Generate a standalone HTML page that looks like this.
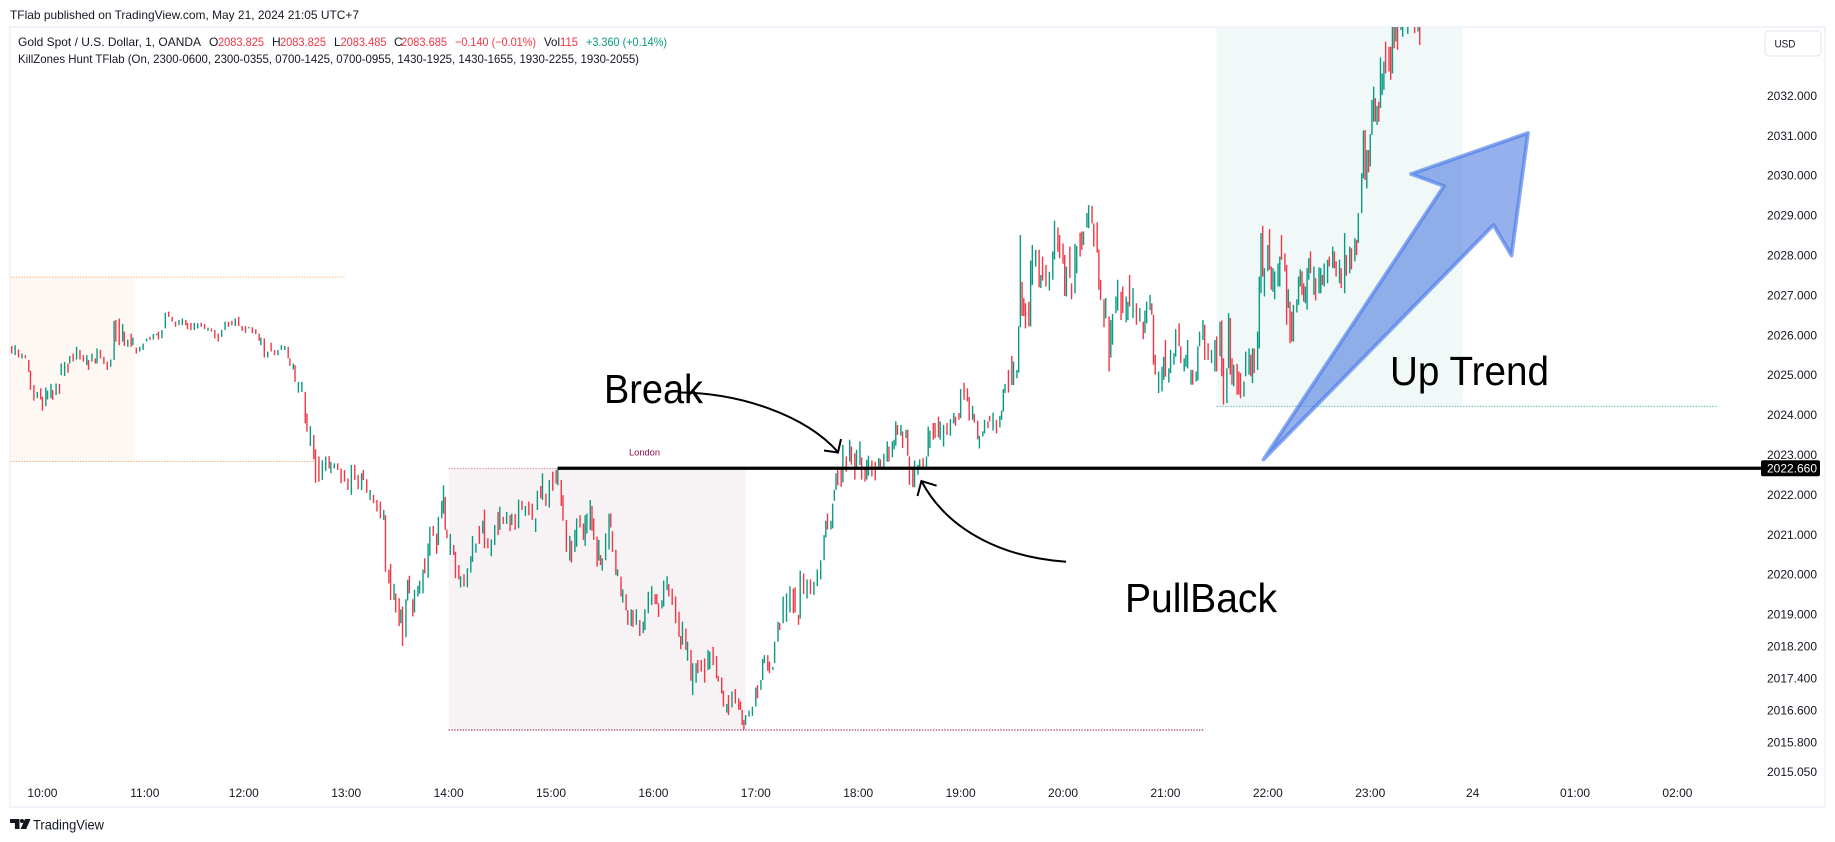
<!DOCTYPE html>
<html lang="en">
<head>
<meta charset="utf-8">
<title>Gold Spot KillZones chart</title>
<style>
html,body{margin:0;padding:0;background:#fff;width:1835px;height:842px;overflow:hidden}
svg{display:block;font-family:"Liberation Sans",sans-serif}
</style>
</head>
<body>
<svg id="chart" xmlns="http://www.w3.org/2000/svg" width="1835" height="842" viewBox="0 0 1835 842">
  <defs>
    <clipPath id="pane"><rect x="10" y="27" width="1751" height="779"/></clipPath>
  </defs>
  <rect x="0" y="0" width="1835" height="842" fill="#ffffff"/>
  <text x="10" y="19" font-size="12" fill="#131722" textLength="349" lengthAdjust="spacingAndGlyphs">TFlab published on TradingView.com, May 21, 2024 21:05 UTC+7</text>
  <rect x="10" y="27" width="1815" height="780" fill="none" stroke="#f0f3fa" stroke-width="2"/>

  <g id="sessions" clip-path="url(#pane)"></g>
  <g id="candles" clip-path="url(#pane)"></g>
  <line id="levelLine" stroke="#000000" stroke-width="3.2"/>

  <text x="644.5" y="455.5" font-size="9.5" fill="#880e4f" text-anchor="middle" textLength="31" lengthAdjust="spacingAndGlyphs">London</text>

  <polygon points="1263.5,459.5 1444,186 1411,174 1528,133 1511.5,255.5 1493.5,225" fill="#4f7ce0" fill-opacity="0.6" stroke="#4a7bea" stroke-opacity="0.65" stroke-width="3.8" stroke-linejoin="round"/>

  <g fill="none" stroke="#000000" stroke-width="2">
    <path d="M680 392.5 C740 393,805 415,838 452"/>
    <path d="M824 450.5 L838 452.5 L841 439"/>
  </g>
  <g fill="none" stroke="#000000" stroke-width="2">
    <path d="M1066 561.7 C1010 558,950 535,921.4 481"/>
    <path d="M917.5 496 L921.4 481 L936.6 485.7"/>
  </g>
  <text x="604" y="403" font-size="41" fill="#000000" textLength="99" lengthAdjust="spacingAndGlyphs">Break</text>
  <text x="1125" y="612" font-size="41" fill="#000000" textLength="152" lengthAdjust="spacingAndGlyphs">PullBack</text>
  <text x="1390" y="385" font-size="41" fill="#000000" textLength="159" lengthAdjust="spacingAndGlyphs">Up Trend</text>

  <g font-size="12">
    <text x="18" y="46" fill="#131722" textLength="183" lengthAdjust="spacingAndGlyphs">Gold Spot / U.S. Dollar, 1, OANDA</text>
    <text x="209" y="46" fill="#131722">O</text>
    <text x="218" y="46" fill="#f23645" textLength="46" lengthAdjust="spacingAndGlyphs">2083.825</text>
    <text x="272" y="46" fill="#131722">H</text>
    <text x="280" y="46" fill="#f23645" textLength="46" lengthAdjust="spacingAndGlyphs">2083.825</text>
    <text x="334" y="46" fill="#131722">L</text>
    <text x="340.5" y="46" fill="#f23645" textLength="46" lengthAdjust="spacingAndGlyphs">2083.485</text>
    <text x="394" y="46" fill="#131722">C</text>
    <text x="401" y="46" fill="#f23645" textLength="46" lengthAdjust="spacingAndGlyphs">2083.685</text>
    <text x="455" y="46" fill="#f23645" textLength="81" lengthAdjust="spacingAndGlyphs">−0.140 (−0.01%)</text>
    <text x="544" y="46" fill="#131722" textLength="16" lengthAdjust="spacingAndGlyphs">Vol</text>
    <text x="560" y="46" fill="#f23645" textLength="18" lengthAdjust="spacingAndGlyphs">115</text>
    <text x="586" y="46" fill="#089981" textLength="81" lengthAdjust="spacingAndGlyphs">+3.360 (+0.14%)</text>
    <text x="18" y="63" fill="#131722" textLength="621" lengthAdjust="spacingAndGlyphs">KillZones Hunt TFlab (On, 2300-0600, 2300-0355, 0700-1425, 0700-0955, 1430-1925, 1430-1655, 1930-2255, 1930-2055)</text>
  </g>

  <g id="yAxis" font-size="12" fill="#131722" text-anchor="middle"></g>
  <g id="xAxis" font-size="12" fill="#131722" text-anchor="middle"></g>

  <rect id="levelTag" x="1761" width="59" height="16" rx="2" fill="#000000"/>
  <text id="levelText" x="1792" font-size="12" fill="#ffffff" text-anchor="middle"></text>

  <rect x="1765" y="31" width="56" height="25" rx="4" fill="#ffffff" stroke="#e0e3eb"/>
  <text x="1785" y="47.5" font-size="11" fill="#131722" text-anchor="middle" textLength="21" lengthAdjust="spacingAndGlyphs">USD</text>

  <g fill="#131722">
    <path d="M10 819h9.5v10h-4.6v-6H10z"/>
    <circle cx="22" cy="821" r="2"/>
    <path d="M25 819h5.6l-4.4 10h-5.6z"/>
  </g>
  <text x="33" y="829.5" font-size="14" fill="#131722" textLength="71" lengthAdjust="spacingAndGlyphs">TradingView</text>
</svg>

<script>
// Values in hundredths of a dollar above 2000 (2571 = 2025.71). Minutes count from the left edge of the chart.
const priceBase = 2000;
const minutes = [
1,3,5,7,9,11,12,14,16,18,
19,21,22,24,25,27,29,30,32,34,
35,37,39,41,43,45,46,48,50,51,
53,55,57,59,61,62,64,66,67,69,
71,72,74,76,78,80,82,84,86,87,
89,91,93,95,97,99,101,103,104,106,
108,110,112,114,116,118,120,122,124,126,
128,130,132,134,136,138,140,142,144,146,
147,149,151,153,155,157,159,161,163,164,
166,167,169,171,173,174,176,178,179,181,
183,185,187,188,190,192,194,196,198,200,
202,204,206,207,209,211,213,215,217,219,
220,222,223,225,226,228,229,230,232,233,
234,236,237,239,240,242,243,245,246,248,250,251,
253,254,255,256,258,260,261,263,264,266,
268,270,271,273,275,277,278,280,282,284,
286,287,289,291,293,294,296,298,300,302,
304,306,308,309,311,312,314,316,318,320,
321,323,324,326,328,329,331,332,334,336,
337,338,340,341,342,344,345,346,347,349,
351,352,353,355,356,358,359,361,362,364,
365,367,369,371,372,374,376,378,379,380,
382,383,385,386,388,390,392,393,394,396,
397,399,400,402,403,405,407,409,410,412,
414,415,417,418,420,421,423,425,427,428,
429,430,431,433,435,437,438,440,441,442,
444,445,447,448,450,451,453,455,457,459,
460,462,463,465,467,469,471,473,475,477,
478,479,481,482,483,484,485,487,
488,490,492,493,495,496,498,499,501,502,
503,505,507,509,510,512,514,515,517,518,
519,520,522,523,525,526,527,529,530,532,
533,535,537,538,539,541,542,544,545,547,
549,551,553,554,556,557,559,561,562,564,
565,567,568,570,571,573,574,576,578,580,
581,582,583,585,587,588,590,591,592,593,
594,595,597,598,599,601,603,604,605,607,
609,611,612,614,615,617,618,619,621,622,
624,625,627,628,629,631,632,634,635,637,
638,639,641,642,644,645,646,648,649,651,
652,654,655,656,658,660,662,664,665,666,
668,669,670,671,673,675,676,677,679,680,
682,683,685,686,688,689,690,692,693,695,
696,697,699,700,702,704,706,707,709,710,
711,713,714,715,716,717,719,720,721,723,
724,726,727,728,729,731,732,733,734,735,
737,738,739,740,741,743,744,745,747,748,
749,750,751,752,754,755,756,757,758,759,
760,761,762,764,765,767,768,769,770,772,
773,775,776,777,779,780,782,783,785,786,
788,789,790,792,793,794,795,796,797,798,
799,800,801,802,803,804,805,806,808,809,
810,811,812,813,815,816,819,823,825,826
];
const highs = [
2571,2573,2562,2552,2548,2536,2509,2473,2456,2465,
2444,2467,2459,2476,2461,2477,2476,2527,2531,2527,
2546,2552,2569,2561,2548,2548,2536,2552,2540,2565,
2561,2544,2532,2537,2634,2636,2640,2626,2607,2587,
2602,2592,2567,2569,2577,2590,2594,2601,2602,2607,
2611,2654,2657,2644,2632,2636,2640,2636,2629,2629,
2629,2628,2629,2626,2617,2615,2611,2602,2611,2632,
2632,2634,2640,2644,2621,2621,2619,2618,2613,2602,
2592,2590,2557,2579,2561,2561,2573,2571,2569,2540,
2527,2523,2481,2481,2456,2402,2370,2348,2312,2294,
2285,2294,2295,2281,2277,2277,2264,2260,2239,2273,
2273,2248,2252,2260,2237,2210,2198,2185,2181,2160,
2147,2010,2025,1975,1951,1939,1911,1918,1936,1985,
1995,1936,1960,1970,1983,2011,2039,2076,2118,2120,2101,2143,
2183,2222,2193,2111,2100,2072,2055,2022,1994,1999,
2014,2044,2095,2076,2120,2133,2161,2089,2086,2122,
2155,2168,2143,2155,2147,2151,2150,2186,2183,2170,
2181,2176,2139,2208,2220,2252,2201,2235,2256,2260,
2267,2235,2197,2135,2095,2083,2110,2139,2147,2126,
2147,2151,2185,2170,2139,2093,2085,2047,2039,2101,
2151,2151,2107,2060,2011,1993,1961,1949,1909,1911,
1909,1911,1884,1880,1911,1955,1969,1949,1949,1926,
1934,1983,1994,1974,1963,1943,1905,1844,1880,1863,
1830,1809,1776,1776,1784,1784,1788,1809,1805,1817,
1794,1744,1740,1707,1674,1696,1705,1711,1688,1680,
1659,1634,1646,1657,1667,1715,1721,1734,1786,1796,
1796,1780,1767,1830,1880,1877,1943,1951,1969,1963,
1966,1897,2008,2001,1986,1986,1980,2011,2034,2097,
2133,2151,2133,2176,2210,2252,2260,2260,
2323,2294,2336,2319,2302,2311,2332,2292,2265,2286,
2296,2284,2281,2290,2287,2301,2332,2319,2332,2336,
2382,2373,2373,2357,2361,2361,2294,2265,2284,2273,
2287,2290,2294,2369,2359,2378,2378,2394,2382,2373,
2378,2388,2403,2394,2403,2463,2479,2465,2443,2421,
2401,2384,2346,2357,2386,2382,2396,2404,2386,2396,
2409,2463,2476,2511,2546,2532,2511,2620,2849,2732,
2691,2678,2682,2785,2824,2812,2812,2749,2795,2774,
2757,2808,2885,2868,2849,2828,2799,2770,2820,2728,
2827,2822,2855,2858,2858,2904,2924,2922,2878,2881,
2813,2737,2688,2691,2645,2636,2651,2695,2737,2707,
2720,2695,2682,2749,2716,2678,2666,2632,2660,2682,
2699,2678,2649,2549,2507,2519,2544,2586,2515,2561,
2553,2613,2628,2570,2540,2549,2586,2511,2511,2507,
2570,2607,2636,2624,2578,2561,2586,2595,2632,2635,
2540,2515,2653,2641,2540,2524,2526,2507,2503,2482,
2557,2565,2549,2565,2565,2607,2745,2854,2872,2766,
2824,2864,2770,2766,2758,2778,2795,2849,2803,2774,
2713,2682,2657,2674,2688,2745,2763,2758,2728,2720,
2766,2791,2808,2770,2741,2768,2766,2749,2778,2787,
2795,2820,2808,2783,2787,2766,2854,2799,2820,2816,
2841,2837,2904,3004,3111,3112,3062,3062,3102,3188,
3221,3192,3173,3183,3294,3254,3284,3334,3321,3321,
3400,3400,3400,3400,3400,3400,3400,3400,3400,3400
];
const lows = [
2552,2548,2542,2540,2540,2506,2461,2434,2440,2437,
2409,2420,2437,2440,2436,2448,2451,2498,2496,2504,
2527,2532,2537,2537,2532,2523,2511,2532,2527,2527,
2540,2526,2511,2519,2536,2582,2573,2582,2571,2569,
2569,2573,2552,2557,2561,2582,2586,2587,2598,2587,
2590,2615,2644,2632,2619,2623,2623,2623,2613,2611,
2611,2615,2619,2613,2609,2607,2590,2582,2594,2611,
2619,2623,2621,2621,2609,2604,2615,2603,2601,2584,
2573,2542,2542,2557,2548,2548,2561,2561,2540,2521,
2512,2481,2454,2456,2377,2356,2320,2287,2228,2231,
2235,2258,2264,2252,2264,2260,2227,2231,2210,2198,
2235,2212,2210,2235,2203,2185,2177,2156,2139,2135,
2005,1976,1934,1934,1903,1869,1876,1819,1841,1933,
1951,1893,1903,1943,1950,1951,2001,1990,2045,2095,2050,2072,
2139,2151,2110,2089,2047,2047,1989,1986,1966,1968,
1966,2003,2030,2053,2075,2101,2064,2064,2044,2072,
2097,2110,2125,2125,2107,2122,2110,2114,2160,2145,
2147,2135,2105,2160,2189,2185,2170,2166,2208,2226,
2222,2170,2133,2055,2033,2028,2055,2068,2116,2085,
2070,2101,2110,2108,2085,2018,2033,2022,2008,2034,
2061,2116,2055,1997,1994,1943,1928,1908,1872,1869,
1867,1872,1844,1851,1859,1901,1922,1924,1924,1892,
1913,1918,1959,1943,1922,1876,1842,1811,1822,1809,
1782,1732,1696,1727,1751,1755,1727,1759,1761,1771,
1738,1730,1700,1667,1652,1646,1665,1675,1659,1659,
1621,1610,1621,1642,1644,1667,1688,1709,1734,1776,
1757,1751,1759,1776,1830,1859,1876,1880,1903,1901,
1903,1872,1888,1949,1938,1949,1947,1969,1986,2034,
2091,2111,2111,2114,2183,2210,2222,2218,
2229,2256,2281,2273,2236,2265,2273,2236,2231,2236,
2246,2244,2234,2269,2265,2265,2281,2281,2292,2312,
2321,2348,2346,2315,2340,2296,2223,2217,2217,2248,
2261,2261,2265,2294,2315,2336,2340,2342,2336,2319,
2348,2346,2377,2371,2386,2390,2436,2432,2384,2386,
2379,2337,2314,2344,2352,2365,2382,2359,2352,2367,
2386,2407,2453,2454,2473,2473,2490,2504,2618,2646,
2646,2615,2620,2620,2724,2770,2718,2716,2735,2720,
2710,2737,2788,2807,2791,2777,2696,2695,2741,2688,
2703,2753,2795,2812,2824,2868,2866,2878,2820,2805,
2712,2686,2618,2640,2507,2542,2574,2653,2660,2636,
2653,2630,2636,2670,2641,2624,2632,2588,2603,2628,
2661,2649,2524,2499,2453,2457,2486,2494,2479,2503,
2524,2544,2570,2528,2507,2519,2515,2474,2474,2482,
2484,2570,2586,2536,2536,2528,2507,2507,2545,2495,
2424,2428,2515,2499,2474,2470,2449,2449,2440,2444,
2495,2499,2495,2478,2503,2511,2565,2703,2745,2695,
2758,2762,2712,2707,2688,2720,2720,2787,2758,2624,
2666,2578,2582,2582,2655,2674,2720,2699,2682,2678,
2662,2737,2753,2699,2685,2703,2703,2724,2720,2728,
2770,2766,2766,2745,2728,2716,2703,2747,2753,2763,
2783,2799,2829,2904,2991,2987,2966,3006,3021,3100,
3133,3133,3125,3133,3167,3200,3213,3254,3259,3238,
3254,3317,3334,3313,3363,3346,3353,3355,3359,3325
];
const closes = [
2552,2573,2542,2552,2540,2506,2461,2434,2456,2437,
2409,2467,2459,2476,2436,2477,2451,2527,2531,2504,
2546,2532,2569,2537,2532,2548,2511,2552,2527,2565,
2540,2526,2511,2537,2634,2582,2573,2626,2571,2587,
2569,2592,2552,2569,2577,2590,2586,2601,2602,2587,
2611,2654,2644,2632,2619,2636,2640,2623,2613,2611,
2629,2628,2619,2613,2617,2607,2590,2582,2611,2632,
2619,2623,2640,2621,2609,2604,2619,2603,2601,2584,
2592,2542,2557,2557,2548,2561,2573,2571,2540,2521,
2527,2481,2481,2481,2377,2356,2370,2287,2228,2231,
2285,2294,2264,2281,2277,2260,2227,2231,2210,2273,
2235,2212,2252,2235,2203,2210,2177,2156,2139,2160,
2005,1976,1934,1975,1903,1869,1911,1819,1936,1985,
1951,1893,1960,1970,1983,2011,2001,2076,2118,2095,2050,2143,
2183,2222,2110,2089,2100,2047,1989,1986,1994,1968,
2014,2044,2095,2076,2075,2133,2064,2064,2086,2122,
2097,2168,2125,2155,2107,2151,2110,2186,2160,2170,
2147,2135,2139,2208,2189,2252,2170,2235,2208,2226,
2267,2170,2133,2055,2095,2028,2110,2139,2116,2085,
2147,2151,2185,2108,2085,2018,2085,2022,2039,2101,
2151,2116,2055,1997,2011,1943,1961,1908,1872,1911,
1867,1911,1844,1880,1911,1955,1969,1924,1924,1892,
1934,1983,1994,1943,1922,1876,1842,1811,1880,1809,
1830,1732,1776,1776,1751,1755,1727,1809,1805,1771,
1738,1730,1700,1667,1674,1646,1705,1675,1659,1659,
1621,1610,1646,1657,1667,1715,1688,1734,1786,1796,
1757,1751,1767,1830,1880,1859,1943,1951,1969,1901,
1903,1872,2008,1949,1986,1949,1980,2011,2034,2097,
2133,2111,2133,2176,2210,2252,2222,2218,
2323,2256,2336,2273,2236,2311,2332,2236,2231,2286,
2296,2244,2234,2290,2265,2301,2332,2281,2332,2336,
2382,2348,2373,2315,2361,2296,2223,2217,2284,2273,
2287,2261,2294,2369,2359,2336,2340,2342,2382,2373,
2348,2388,2403,2371,2386,2463,2436,2432,2384,2421,
2379,2337,2346,2357,2386,2365,2382,2404,2352,2396,
2409,2463,2476,2454,2473,2532,2511,2620,2849,2646,
2646,2615,2620,2785,2824,2812,2718,2749,2735,2720,
2757,2808,2885,2807,2791,2777,2696,2770,2741,2688,
2827,2822,2795,2812,2858,2904,2924,2878,2820,2805,
2712,2686,2618,2691,2507,2636,2651,2695,2737,2636,
2653,2695,2682,2670,2716,2624,2666,2588,2660,2682,
2699,2649,2524,2499,2507,2519,2544,2494,2515,2561,
2553,2613,2570,2528,2540,2549,2586,2511,2474,2507,
2570,2607,2636,2536,2536,2561,2586,2507,2632,2495,
2424,2515,2653,2499,2474,2524,2449,2449,2440,2482,
2557,2565,2495,2565,2503,2607,2745,2854,2745,2766,
2824,2762,2712,2766,2758,2778,2795,2787,2758,2624,
2713,2578,2582,2674,2688,2745,2763,2699,2682,2720,
2766,2791,2753,2770,2685,2768,2766,2724,2778,2787,
2770,2820,2766,2745,2787,2716,2854,2747,2820,2763,
2841,2799,2904,3004,3111,2987,3062,3006,3102,3188,
3221,3133,3173,3133,3294,3254,3284,3254,3259,3238,
3400,3317,3400,3313,3400,3400,3400,3355,3400,3325
];

const priceTicks = [2032,2031,2030,2029,2028,2027,2026,2025,2024,2023,2022,2021,2020,2019,2018.2,2017.4,2016.6,2015.8,2015.05];
const timeLabels = ["10:00","11:00","12:00","13:00","14:00","15:00","16:00","17:00","18:00","19:00","20:00","21:00","22:00","23:00","24","01:00","02:00"];
const timeTickMinutes = [19,79,137,197,257,317,377,437,497,557,617,677,737,797,857,917,977];
const levelPrice = 2022.66;
const levelStartMinute = 321;

const sessionNames = ["asia","london","new-york"];
const sessionStarts = [0,257,707];
const sessionEnds = [73,431,851];
const sessionHighs = [2027.45,2022.65,2034.2];
const sessionLows = [2022.83,2016.1,2024.21];
const sessionHighLineEnds = [196,700,1001];
const sessionLowLineEnds = [179,700,1001];
const sessionFills = ["#fdf8f4","#f7f2f4","#f0f9f8"];
const sessionHighColors = ["#f8b27a","#d98bab","#5cbdb0"];
const sessionLowColors = ["#f8b27a","#880e4f","#5cbdb0"];

const NS = "http://www.w3.org/2000/svg";
function xScale(minute) { return 10 + minute * 1.7067; }
function yScale(price) { return 95.6 + (2032 - price) * 39.9; }
function toPrice(value) { return priceBase + value / 100; }
function make(tag, parent, attrs) {
  const el = document.createElementNS(NS, tag);
  for (const key in attrs) el.setAttribute(key, attrs[key]);
  parent.appendChild(el);
  return el;
}

const sessionLayer = document.getElementById("sessions");
sessionNames.forEach(function (name, i) {
  const x0 = xScale(sessionStarts[i]);
  const yTop = yScale(sessionHighs[i]);
  const yBot = yScale(sessionLows[i]);
  const box = make("rect", sessionLayer, {x: x0, y: yTop, width: xScale(sessionEnds[i]) - x0, height: yBot - yTop, fill: sessionFills[i]});
  
  
  const hi = make("line", sessionLayer, {x1: x0, x2: xScale(sessionHighLineEnds[i]), y1: yTop, y2: yTop, stroke: sessionHighColors[i], "stroke-width": 1, "stroke-dasharray": "1.4 1.4"});
  
  
  const lo = make("line", sessionLayer, {x1: x0, x2: xScale(sessionLowLineEnds[i]), y1: yBot, y2: yBot, stroke: sessionLowColors[i], "stroke-width": 1, "stroke-dasharray": "1.4 1.4"});
  
  
});

const candleLayer = document.getElementById("candles");
minutes.forEach(function (minute, i) {
  const up = closes[i] >= (highs[i] + lows[i]) / 2;
  const x = xScale(minute);
  const bar = make("line", candleLayer, {x1: x, x2: x, y1: yScale(toPrice(highs[i])) - 0.6, y2: yScale(toPrice(lows[i])) - 0.6, stroke: up ? "#089981" : "#f23645", "stroke-width": 1.4});
  
  
});

const levelY = yScale(levelPrice);
const levelLine = document.getElementById("levelLine");
levelLine.setAttribute("x1", xScale(levelStartMinute));
levelLine.setAttribute("x2", 1761);
levelLine.setAttribute("y1", levelY);
levelLine.setAttribute("y2", levelY);

const yAxis = document.getElementById("yAxis");
priceTicks.forEach(function (price) {
  const label = make("text", yAxis, {x: 1792, y: yScale(price) + 4.3});
  
  
  label.textContent = price.toFixed(3);
});

const xAxis = document.getElementById("xAxis");
timeLabels.forEach(function (text, i) {
  const label = make("text", xAxis, {x: xScale(timeTickMinutes[i]), y: 797});
  
  
  label.textContent = text;
});

document.getElementById("levelTag").setAttribute("y", levelY - 8);
const levelText = document.getElementById("levelText");
levelText.setAttribute("y", levelY + 4.3);
levelText.textContent = levelPrice.toFixed(3);
</script>
</body>
</html>
